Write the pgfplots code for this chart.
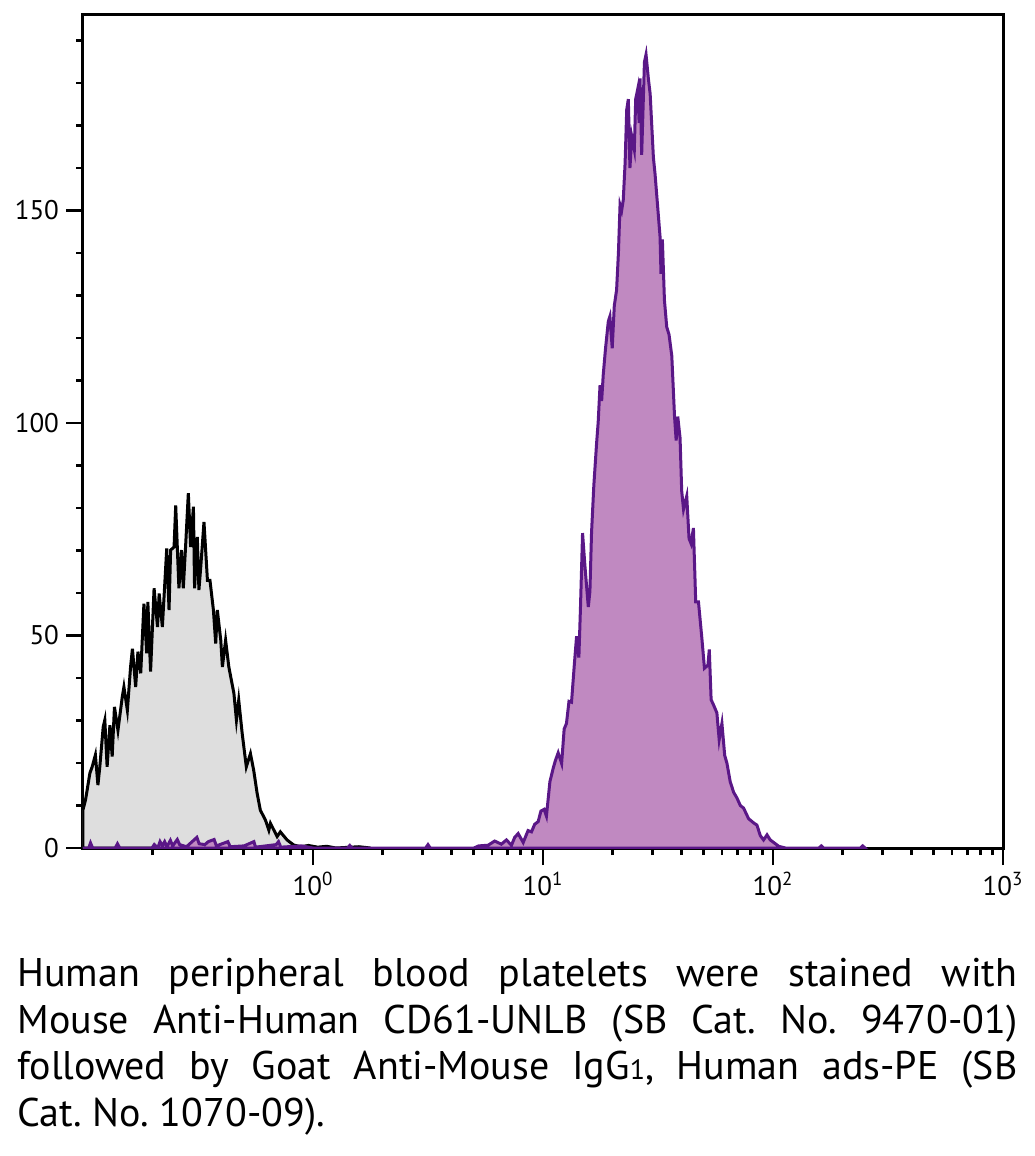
\documentclass[border=0pt]{standalone}
\usepackage{pgfplots}
\pgfplotsset{compat=1.18}
\usepackage{pgfplotstable}
\usepackage{fontspec}
\setmainfont{PT Sans}
\definecolor{greyfill}{HTML}{DEDEDE}
\definecolor{purpfill}{HTML}{C089C1}
\definecolor{purpline}{HTML}{5A1787}

% lx = log10 of fluorescence, y = count
\pgfplotstableread{
lx y
-1.000 9.0
-0.989 11.3
-0.982 13.6
-0.970 17.6
-0.960 19.1
-0.946 21.9
-0.935 14.8
-0.927 19.1
-0.912 28.5
-0.905 30.1
-0.895 19.1
-0.883 28.9
-0.873 21.5
-0.863 33.2
-0.848 27.7
-0.829 35.6
-0.822 37.9
-0.807 32.4
-0.793 42.6
-0.785 46.9
-0.771 37.9
-0.761 46.2
-0.749 41.1
-0.735 57.5
-0.723 45.8
-0.718 57.9
-0.706 41.5
-0.691 61.1
-0.676 52.0
-0.669 59.9
-0.655 52.0
-0.636 70.5
-0.626 56.0
-0.619 70.1
-0.604 70.8
-0.597 80.6
-0.590 70.8
-0.583 61.1
-0.572 70.1
-0.564 61.1
-0.553 72.0
-0.542 83.5
-0.532 70.8
-0.520 80.3
-0.515 61.1
-0.503 73.2
-0.496 60.7
-0.488 66.1
-0.474 76.7
-0.459 63.0
-0.448 63.0
-0.433 56.0
-0.423 48.1
-0.416 56.0
-0.401 48.9
-0.394 42.6
-0.380 48.9
-0.366 42.6
-0.344 36.4
-0.333 30.1
-0.323 34.8
-0.308 27.0
-0.290 19.1
-0.272 22.2
-0.258 18.3
-0.243 12.9
-0.229 8.9
-0.207 6.6
-0.192 4.2
-0.185 5.8
-0.156 2.7
-0.142 3.8
-0.113 1.9
-0.084 0.7
-0.052 0.3
-0.020 0.6
0.020 0.2
0.060 0.4
0.100 0.0
0.200 0.3
0.250 0.0
}\greydata

\pgfplotstableread{
lx y
-1.000 0
-0.975 0
-0.967 1.2
-0.958 0
-0.860 0
-0.850 1.0
-0.840 0
-0.700 0
-0.690 0.8
-0.675 0
-0.665 1.5
-0.655 0.5
-0.645 1.5
-0.635 0.3
-0.620 1.8
-0.610 0.5
-0.590 2.0
-0.580 0.8
-0.550 0.3
-0.505 2.5
-0.495 1.0
-0.470 0.8
-0.455 1.5
-0.430 2.0
-0.420 0.5
-0.370 1.5
-0.360 0.3
-0.300 0.5
-0.257 1.5
-0.250 0.2
-0.160 0.8
-0.150 1.5
-0.140 0.2
-0.050 0.5
0.000 0
0.150 0
0.160 0.6
0.170 0
0.490 0
0.500 0.8
0.510 0
0.700 0
0.720 0.5
0.761 0.65
0.790 1.64
0.819 0.9
0.841 1.9
0.863 0.65
0.877 2.5
0.892 3.4
0.914 1.3
0.935 4.1
0.950 3.8
0.964 5.6
0.979 6.2
0.991 8.7
1.005 9.1
1.015 7.5
1.030 15.6
1.044 18.7
1.054 20.6
1.066 22.4
1.081 19.9
1.092 28.0
1.102 29.3
1.113 34.5
1.124 34.3
1.136 43.0
1.146 49.8
1.156 44.8
1.163 56.7
1.172 74.1
1.182 66.6
1.197 56.7
1.204 60.4
1.211 74.1
1.221 85.3
1.233 95.2
1.240 100.2
1.248 108.9
1.255 105.2
1.262 111.4
1.272 117.6
1.284 123.9
1.291 125.1
1.301 117.6
1.310 127.6
1.320 131.3
1.328 140.1
1.335 151.3
1.342 150.0
1.349 152.5
1.357 161.2
1.364 173.7
1.371 176.2
1.378 160.0
1.386 167.4
1.397 164.3
1.403 176.2
1.412 178.6
1.418 170.6
1.422 181.1
1.429 163.1
1.441 184.9
1.448 186.7
1.458 181.1
1.466 177.4
1.473 169.9
1.480 162.5
1.487 158.7
1.498 151.3
1.509 143.8
1.513 135.1
1.519 143.2
1.528 128.9
1.538 122.6
1.548 120.8
1.560 115.8
1.572 101.5
1.579 95.9
1.586 101.5
1.596 96.5
1.603 84.0
1.611 79.7
1.625 82.8
1.635 72.8
1.644 71.6
1.654 75.3
1.664 57.9
1.676 57.9
1.691 49.2
1.702 42.3
1.717 43.0
1.723 46.7
1.731 34.9
1.742 33.6
1.756 31.8
1.766 25.5
1.778 29.3
1.790 21.8
1.800 19.9
1.814 15.6
1.829 13.1
1.843 11.8
1.858 10.0
1.872 9.4
1.894 6.9
1.916 5.9
1.930 5.4
1.945 2.9
1.959 1.9
1.974 3.1
1.988 1.9
2.003 1.3
2.025 0.4
2.054 0.0
2.200 0.0
2.210 0.5
2.220 0.0
2.380 0.0
2.390 0.5
2.400 0.0
}\purpdata

\begin{document}
\begin{tikzpicture}[x=1pt,y=1pt]
\useasboundingbox (0,0) rectangle (517,-578);
\begin{axis}[
  at={(41.5pt,-424pt)}, anchor=south west,
  scale only axis, width=460pt, height=416.5pt,
  xmode=log, xmin=0.1, xmax=1000, ymin=0, ymax=196,
  axis line style={line width=1.5pt, black},
  tick pos=left, tick align=outside,
  xtick={1,10,100,1000},
  xticklabels={10\textsuperscript{0},10\textsuperscript{1},10\textsuperscript{2},10\textsuperscript{3}},
  minor xtick={0.2,0.3,0.4,0.5,0.6,0.7,0.8,0.9,2,3,4,5,6,7,8,9,20,30,40,50,60,70,80,90,200,300,400,500,600,700,800,900},
  ytick={0,50,100,150}, yticklabels={0,50,100,150},
  minor ytick={10,20,30,40,60,70,80,90,110,120,130,140,160,170,180,190},
  major tick length=8.5pt, minor tick length=3.5pt,
  tick style={black, line width=1.3pt},
  ticklabel style={font=\fontsize{13.5}{15}\selectfont},
  clip=true,
]
\addplot[draw=black, line width=1.5pt, fill=greyfill] table[x expr=10^\thisrow{lx}, y=y] {\greydata} \closedcycle;
\addplot[draw=purpline, line width=1.5pt, fill=purpfill] table[x expr=10^\thisrow{lx}, y=y] {\purpdata} \closedcycle;
\end{axis}
\node[anchor=north west, inner sep=0pt, text width=500pt, align=justify,
      font=\fontsize{20}{23.25}\selectfont] at (8.5,-479) {\frenchspacing\hyphenpenalty=10000\exhyphenpenalty=10000%
Human peripheral blood platelets were stained with\linebreak
Mouse Anti-Human CD61-UNLB (SB Cat. No. 9470-01)\linebreak
followed by Goat Anti-Mouse IgG{\fontsize{14}{14}\selectfont 1}, Human ads-PE (SB\linebreak
Cat. No. 1070-09).};
\end{tikzpicture}
\end{document}
